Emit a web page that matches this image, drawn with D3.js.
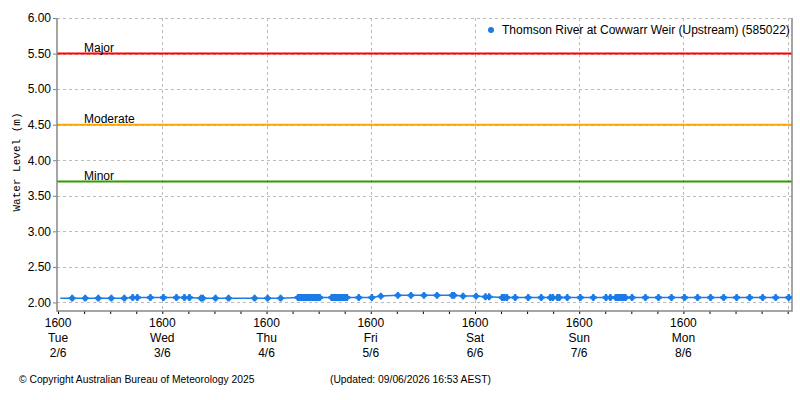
<!DOCTYPE html>
<html>
<head>
<meta charset="utf-8">
<script src="https://cdn.jsdelivr.net/npm/d3@7"></script>
<style>
  body { margin: 0; background: #fff; }
  svg { display: block; font-family: "Liberation Sans", Arial, sans-serif; }
</style>
</head>
<body>
<div id="chart"></div>
<script>
// water level readings, Thomson River at Cowwarr Weir (Upstream)
var readingTimes = [
  "2026-06-02 16:30", "2026-06-02 19:15", "2026-06-02 22:15",
  "2026-06-03 01:15", "2026-06-03 04:15", "2026-06-03 07:15", "2026-06-03 09:10", "2026-06-03 10:15",
  "2026-06-03 13:15", "2026-06-03 16:15", "2026-06-03 19:15", "2026-06-03 21:05", "2026-06-03 22:15",
  "2026-06-04 00:55", "2026-06-04 01:20", "2026-06-04 04:15", "2026-06-04 07:15", "2026-06-04 13:15",
  "2026-06-04 16:15", "2026-06-04 19:15",
  "2026-06-04 23:15", "2026-06-04 23:30", "2026-06-04 23:45", "2026-06-05 00:00", "2026-06-05 00:15",
  "2026-06-05 00:30", "2026-06-05 00:45", "2026-06-05 01:00", "2026-06-05 01:15", "2026-06-05 01:30",
  "2026-06-05 01:45", "2026-06-05 02:00", "2026-06-05 02:15", "2026-06-05 02:30", "2026-06-05 02:45",
  "2026-06-05 03:00", "2026-06-05 03:15", "2026-06-05 03:30", "2026-06-05 03:45", "2026-06-05 04:00",
  "2026-06-05 04:15",
  "2026-06-05 07:00", "2026-06-05 07:15", "2026-06-05 07:30", "2026-06-05 07:45", "2026-06-05 08:00",
  "2026-06-05 08:15", "2026-06-05 08:30", "2026-06-05 08:45", "2026-06-05 09:00", "2026-06-05 09:15",
  "2026-06-05 09:30", "2026-06-05 09:45", "2026-06-05 10:00", "2026-06-05 10:15", "2026-06-05 10:30",
  "2026-06-05 13:15", "2026-06-05 16:15", "2026-06-05 18:20", "2026-06-05 22:15",
  "2026-06-06 01:15", "2026-06-06 04:15", "2026-06-06 07:15", "2026-06-06 10:45", "2026-06-06 11:10",
  "2026-06-06 13:15", "2026-06-06 16:15", "2026-06-06 18:25", "2026-06-06 19:15", "2026-06-06 22:15",
  "2026-06-06 22:45", "2026-06-06 23:20",
  "2026-06-07 01:15", "2026-06-07 04:15", "2026-06-07 07:15", "2026-06-07 09:20", "2026-06-07 09:55",
  "2026-06-07 11:00", "2026-06-07 11:25", "2026-06-07 13:15", "2026-06-07 16:15", "2026-06-07 19:15",
  "2026-06-07 22:10", "2026-06-07 23:10",
  "2026-06-08 00:25", "2026-06-08 00:45", "2026-06-08 01:05", "2026-06-08 01:30", "2026-06-08 01:55",
  "2026-06-08 02:15", "2026-06-08 02:40", "2026-06-08 04:10", "2026-06-08 07:15", "2026-06-08 10:15",
  "2026-06-08 13:15", "2026-06-08 16:15", "2026-06-08 19:15", "2026-06-08 22:15",
  "2026-06-09 01:15", "2026-06-09 04:15", "2026-06-09 07:15", "2026-06-09 10:15", "2026-06-09 13:15",
  "2026-06-09 16:15", "2026-06-09 16:50"
];

var waterLevels = [
  2.06, 2.06, 2.06,
  2.06, 2.06, 2.06, 2.07, 2.07,
  2.07, 2.07, 2.07, 2.07, 2.07,
  2.06, 2.06, 2.06, 2.06, 2.06,
  2.06, 2.06,
  2.07, 2.07, 2.07, 2.07, 2.07,
  2.07, 2.07, 2.07, 2.07, 2.07,
  2.07, 2.07, 2.07, 2.07, 2.07,
  2.07, 2.07, 2.07, 2.07, 2.07,
  2.07,
  2.07, 2.07, 2.07, 2.07, 2.07,
  2.07, 2.07, 2.07, 2.07, 2.07,
  2.07, 2.07, 2.07, 2.07, 2.07,
  2.07, 2.07, 2.09, 2.10,
  2.10, 2.10, 2.10, 2.10, 2.10,
  2.09, 2.09, 2.08, 2.08, 2.07,
  2.07, 2.07,
  2.07, 2.07, 2.07, 2.07, 2.07,
  2.07, 2.07, 2.07, 2.07, 2.07,
  2.07, 2.07,
  2.07, 2.07, 2.07, 2.07, 2.07,
  2.07, 2.07, 2.07, 2.07, 2.07,
  2.07, 2.07, 2.07, 2.07,
  2.07, 2.07, 2.07, 2.07, 2.07,
  2.07, 2.07
];

var floodNames = ["Major", "Moderate", "Minor"];
var floodLevels = [5.5, 4.5, 3.7];
var floodColors = ["#ff0000", "#ffa500", "#339900"];

var yTicks = [2.0, 2.5, 3.0, 3.5, 4.0, 4.5, 5.0, 5.5, 6.0];
var timeStart = "2026-06-02 15:45";
var timeEnd = "2026-06-09 17:00";
var firstDayTick = "2026-06-02 16:00";
var lastDayLabel = "2026-06-08 16:00";

var seriesName = "Thomson River at Cowwarr Weir (Upstream) (585022)";
var copyrightText = "\u00a9 Copyright Australian Bureau of Meteorology 2025";
var updatedText = "(Updated: 09/06/2026 16:53 AEST)";

var width = 800, height = 400;
var plotLeft = 57, plotRight = 792, plotTop = 18, plotBottom = 311;
var lineColor = "#1c7ce6";

var parse = d3.timeParse("%Y-%m-%d %H:%M");
var data = readingTimes.map(function(t, i) {
  return { time: parse(t), level: waterLevels[i] };
});

var svg = d3.select("#chart").append("svg")
  .attr("width", width)
  .attr("height", height);

var x = d3.scaleTime()
  .domain([parse(timeStart), parse(timeEnd)])
  .range([plotLeft, plotRight]);

var y = d3.scaleLinear()
  .domain([1.88, 6.0])
  .range([plotBottom, plotTop]);

// day ticks at 1600 and 6 hourly minor ticks
var dayTicks = d3.timeHour.range(parse(firstDayTick), parse(timeEnd), 24);
var minorTicks = d3.timeHour.range(parse(firstDayTick), parse(timeEnd), 6);
var labelDays = dayTicks.filter(function(d) { return d <= parse(lastDayLabel); });

// grid
svg.append("g").selectAll("line")
  .data(yTicks)
  .enter().append("line")
  .attr("x1", plotLeft).attr("x2", plotRight)
  .attr("y1", function(d) { return Math.round(y(d)) + 0.5; })
  .attr("y2", function(d) { return Math.round(y(d)) + 0.5; })
  .attr("stroke", "#bbbbbb")
  .attr("stroke-dasharray", "3,3");

svg.append("g").selectAll("line")
  .data(dayTicks.slice(1))
  .enter().append("line")
  .attr("x1", function(d) { return Math.round(x(d)) + 0.5; })
  .attr("x2", function(d) { return Math.round(x(d)) + 0.5; })
  .attr("y1", plotTop).attr("y2", plotBottom)
  .attr("stroke", "#bbbbbb")
  .attr("stroke-dasharray", "3,3");

// flood class lines
var flood = svg.append("g");
flood.selectAll("line")
  .data(floodLevels)
  .enter().append("line")
  .attr("x1", plotLeft).attr("x2", plotRight)
  .attr("y1", function(d) { return y(d); })
  .attr("y2", function(d) { return y(d); })
  .attr("stroke", function(d, i) { return floodColors[i]; })
  .attr("stroke-width", 2);

flood.selectAll("text")
  .data(floodLevels)
  .enter().append("text")
  .attr("x", 84)
  .attr("y", function(d) { return y(d) - 2; })
  .attr("font-size", 12)
  .attr("fill", "#000")
  .text(function(d, i) { return floodNames[i]; });

// y axis
var yAxis = svg.append("g")
  .attr("transform", "translate(" + plotLeft + ",0)")
  .call(d3.axisLeft(y).tickValues(yTicks).tickFormat(d3.format(".2f")).tickSize(4).tickPadding(2));
yAxis.select(".domain").remove();
yAxis.selectAll("line").attr("stroke", "#808080");
yAxis.selectAll("text").attr("font-size", 12).attr("fill", "#000")
  .attr("font-family", "Liberation Sans, Arial, sans-serif");

// x axis
var xAxis = svg.append("g")
  .attr("transform", "translate(0," + plotBottom + ")")
  .call(d3.axisBottom(x).tickValues(minorTicks).tickFormat("").tickSize(3));
xAxis.select(".domain").remove();
xAxis.selectAll("line").attr("stroke", "#000");

var dayLabels = svg.append("g").selectAll("g")
  .data(labelDays)
  .enter().append("g")
  .attr("transform", function(d) { return "translate(" + x(d) + ",0)"; })
  .attr("font-size", 12)
  .attr("text-anchor", "middle");
dayLabels.append("text").attr("y", 327).text(d3.timeFormat("%H%M"));
dayLabels.append("text").attr("y", 342).text(d3.timeFormat("%a"));
dayLabels.append("text").attr("y", 357).text(function(d) { return d.getDate() + "/" + (d.getMonth() + 1); });

// frame
svg.append("path")
  .attr("d", "M" + plotLeft + "," + plotTop + "V" + plotBottom + "H" + plotRight + "V" + plotTop)
  .attr("fill", "none")
  .attr("stroke", "#888888")
  .attr("stroke-width", 1.5);

// series
var line = d3.line()
  .x(function(d) { return x(d.time); })
  .y(function(d) { return y(d.level); });

svg.append("path")
  .datum(data)
  .attr("d", line)
  .attr("fill", "none")
  .attr("stroke", lineColor)
  .attr("stroke-width", 1.5);

var markers = svg.append("g").selectAll("g")
  .data(data.slice(1, data.length - 1))
  .enter().append("g")
  .attr("transform", function(d) { return "translate(" + x(d.time) + "," + y(d.level) + ")"; })
  .attr("fill", lineColor);
markers.append("circle").attr("r", 2.6);
markers.append("path").attr("d", d3.symbol(d3.symbolCross, 26));

// y label
svg.append("text")
  .attr("transform", "translate(20,162) rotate(-90)")
  .attr("text-anchor", "middle")
  .attr("font-family", "Liberation Mono, DejaVu Sans Mono, monospace")
  .attr("font-size", 11)
  .text("Water Level (m)");

// legend
svg.append("circle")
  .attr("cx", 491).attr("cy", 30).attr("r", 3)
  .attr("fill", lineColor);
svg.append("text")
  .attr("x", 502).attr("y", 34)
  .attr("font-size", 12)
  .text(seriesName);

// footer
svg.append("text")
  .attr("x", 19).attr("y", 383)
  .attr("font-size", 10.3)
  .text(copyrightText);
svg.append("text")
  .attr("x", 330).attr("y", 383)
  .attr("font-size", 10.3)
  .text(updatedText);
</script>
</body>
</html>
